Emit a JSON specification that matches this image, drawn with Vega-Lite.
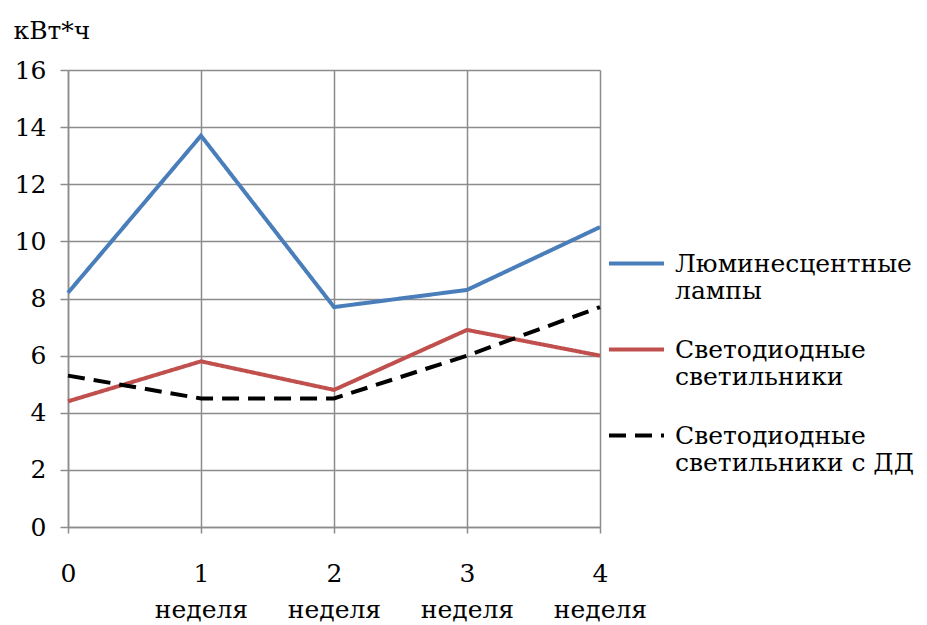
{
  "$schema": "https://vega.github.io/schema/vega-lite/v6.json",
  "autosize": "none",
  "width": 532,
  "height": 457,
  "padding": {"left": 68, "top": 70, "right": 327, "bottom": 98},
  "background": "white",
  "config": {
    "font": "DejaVu Serif",
    "view": {"stroke": null}
  },
  "data": {
    "values": [
      {"series": "Люминесцентные лампы", "week": 0, "value": 8.2},
      {"series": "Люминесцентные лампы", "week": 1, "value": 13.7},
      {"series": "Люминесцентные лампы", "week": 2, "value": 7.7},
      {"series": "Люминесцентные лампы", "week": 3, "value": 8.3},
      {"series": "Люминесцентные лампы", "week": 4, "value": 10.5},
      {"series": "Светодиодные светильники", "week": 0, "value": 4.4},
      {"series": "Светодиодные светильники", "week": 1, "value": 5.8},
      {"series": "Светодиодные светильники", "week": 2, "value": 4.8},
      {"series": "Светодиодные светильники", "week": 3, "value": 6.9},
      {"series": "Светодиодные светильники", "week": 4, "value": 6.0},
      {"series": "Светодиодные светильники с ДД", "week": 0, "value": 5.3},
      {"series": "Светодиодные светильники с ДД", "week": 1, "value": 4.5},
      {"series": "Светодиодные светильники с ДД", "week": 2, "value": 4.5},
      {"series": "Светодиодные светильники с ДД", "week": 3, "value": 6.0},
      {"series": "Светодиодные светильники с ДД", "week": 4, "value": 7.7}
    ]
  },
  "mark": {"type": "line", "strokeWidth": 4, "clip": false},
  "encoding": {
    "x": {
      "field": "week",
      "type": "quantitative",
      "scale": {"domain": [0, 4], "nice": false, "zero": false},
      "axis": {
        "values": [0, 1, 2, 3, 4],
        "title": null,
        "grid": true,
        "gridColor": "#8c8c8c",
        "gridWidth": 1.5,
        "domainColor": "#8c8c8c",
        "domainWidth": 1.5,
        "tickColor": "#8c8c8c",
        "tickWidth": 1.5,
        "tickSize": 6,
        "labelFont": "DejaVu Serif",
        "labelFontSize": 25,
        "labelColor": "black",
        "labelPadding": 28,
        "labelLineHeight": 36,
        "labelBaseline": "top",
        "labelFlush": false,
        "labelExpr": "datum.value == 0 ? '0' : [datum.label, 'неделя']"
      }
    },
    "y": {
      "field": "value",
      "type": "quantitative",
      "scale": {"domain": [0, 16], "nice": false},
      "axis": {
        "values": [0, 2, 4, 6, 8, 10, 12, 14, 16],
        "grid": true,
        "gridColor": "#8c8c8c",
        "gridWidth": 1.5,
        "domainColor": "#8c8c8c",
        "domainWidth": 1.5,
        "tickColor": "#8c8c8c",
        "tickWidth": 1.5,
        "tickSize": 8,
        "labelFont": "DejaVu Serif",
        "labelFontSize": 25,
        "labelColor": "black",
        "labelPadding": 14,
        "title": "кВт*ч",
        "titleFont": "DejaVu Serif",
        "titleFontSize": 25,
        "titleFontWeight": "normal",
        "titleColor": "black",
        "titleAngle": 0,
        "titleAlign": "left",
        "titleBaseline": "alphabetic",
        "titleX": -55,
        "titleY": -32
      }
    },
    "color": {
      "field": "series",
      "type": "nominal",
      "scale": {
        "domain": ["Люминесцентные лампы", "Светодиодные светильники", "Светодиодные светильники с ДД"],
        "range": ["#4a7ebb", "#c0504d", "#000000"]
      },
      "legend": {
        "orient": "none",
        "legendX": 539,
        "legendY": 164,
        "title": null,
        "symbolType": "stroke",
        "symbolSize": 3025,
        "symbolStrokeWidth": 4,
        "labelFont": "DejaVu Serif",
        "labelFontSize": 25,
        "labelColor": "black",
        "labelLimit": 400,
        "labelLineHeight": 35,
        "labelBaseline": "middle",
        "labelOffset": 9,
        "rowPadding": 16,
        "labelExpr": "length(datum.label) > 26 ? ['\u2002\u2002Светодиодные', '\u2002\u2002светильники с ДД'] : [slice(datum.label, 0, indexof(datum.label, ' ')), slice(datum.label, indexof(datum.label, ' ') + 1)]"
      }
    },
    "strokeDash": {
      "field": "series",
      "type": "nominal",
      "scale": {
        "domain": ["Люминесцентные лампы", "Светодиодные светильники", "Светодиодные светильники с ДД"],
        "range": [[1, 0], [1, 0], [17, 9]]
      },
      "legend": null
    }
  }
}
